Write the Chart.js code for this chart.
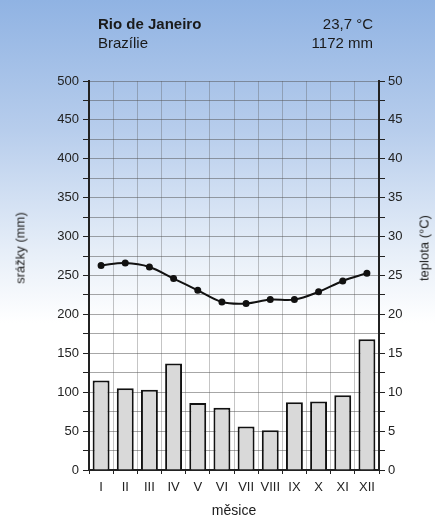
<!DOCTYPE html>
<html>
<head>
<meta charset="utf-8">
<script src="https://cdn.jsdelivr.net/npm/chart.js@4.4.1/dist/chart.umd.min.js"></script>
<style>
  body { margin: 0; }
  #wrap {
    position: relative;
    width: 435px;
    height: 521px;
    overflow: hidden;
    background: linear-gradient(180deg, #90b3e3 0%, #b7cdec 25%, #e6eef8 48%, #ffffff 62%, #ffffff 100%);
    font-family: "Liberation Sans", Arial, sans-serif;
    color: #1a1a1a;
  }
  #chart { position: absolute; left: 0; top: 0; }
  .txt { position: absolute; font-size: 15px; line-height: 15px; white-space: nowrap; }
  .axisTitle {
    position: absolute;
    font-size: 13px;
    line-height: 13px;
    font-weight: normal;
    color: #222;
    white-space: nowrap;
    transform: translate(-50%, -50%) rotate(-90deg);
  }
</style>
</head>
<body>
<div id="wrap">
  <canvas id="chart" width="435" height="521"></canvas>
  <div class="txt" style="left:98px; top:16px; font-weight:bold;">Rio de Janeiro</div>
  <div class="txt" style="left:98px; top:35px;">Brazílie</div>
  <div class="txt" style="right:62px; top:16px;">23,7 °C</div>
  <div class="txt" style="right:62px; top:35px;">1172 mm</div>
  <div class="axisTitle" style="left:20px; top:248px;">srážky (mm)</div>
  <div class="axisTitle" style="left:424px; top:248px;">teplota (°C)</div>
  <div class="txt" style="left:234px; top:510px; font-size:14px; line-height:14px; transform:translate(-50%,-50%);">měsice</div>
</div>
<script>
const months = ["I", "II", "III", "IV", "V", "VI", "VII", "VIII", "IX", "X", "XI", "XII"];
const precipitation = [115, 105, 103, 137, 86, 80, 56, 51, 87, 88, 96, 168];
const temperature = [26.3, 26.6, 26.1, 24.6, 23.1, 21.6, 21.4, 21.9, 21.9, 22.9, 24.3, 25.3];

const precipMax = 500;
const precipStep = 25;
const precipLabelStep = 50;
const tempMax = 50;
const tempStep = 2.5;
const tempLabelStep = 5;

Chart.defaults.font.family = "'Liberation Sans', Arial, sans-serif";
Chart.defaults.font.size = 13;
Chart.defaults.color = "#222";

const ctx = document.getElementById("chart").getContext("2d");

new Chart(ctx, {
  data: {
    labels: months,
    datasets: [
      {
        type: "line",
        data: temperature,
        yAxisID: "y1",
        borderColor: "#111",
        backgroundColor: "#111",
        borderWidth: 2,
        pointRadius: 2.5,
        pointBackgroundColor: "#111",
        tension: 0.35,
        order: 0
      },
      {
        type: "bar",
        data: precipitation,
        yAxisID: "y",
        backgroundColor: "#d9d9d9",
        borderColor: "#111",
        borderWidth: 2,
        barPercentage: 0.7,
        categoryPercentage: 1,
        order: 1
      }
    ]
  },
  options: {
    responsive: false,
    animation: false,
    devicePixelRatio: 1,
    layout: { padding: { top: 81, left: 0, right: 0, bottom: 0 } },
    plugins: {
      legend: { display: false },
      tooltip: { enabled: false }
    },
    scales: {
      x: {
        offset: true,
        afterFit: scale => { scale.height = 51; },
        grid: {
          offset: true,
          color: "rgba(90, 90, 90, 0.35)",
          tickColor: "#222",
          tickLength: 4
        },
        border: { color: "#222", width: 2 },
        ticks: { padding: 6, maxRotation: 0, autoSkip: false }
      },
      y: {
        position: "left",
        min: 0,
        max: precipMax,
        afterFit: scale => { scale.width = 89; },
        grid: {
          color: "rgba(80, 80, 80, 0.5)",
          tickColor: "#222",
          tickLength: 6
        },
        border: { color: "#222", width: 2 },
        ticks: {
          stepSize: precipStep,
          padding: 4,
          callback: value => (value % precipLabelStep === 0 ? value : "")
        }
      },
      y1: {
        position: "right",
        min: 0,
        max: tempMax,
        afterFit: scale => { scale.width = 56; },
        grid: {
          drawOnChartArea: false,
          tickColor: "#222",
          tickLength: 6
        },
        border: { color: "#222", width: 2 },
        ticks: {
          stepSize: tempStep,
          padding: 3,
          callback: value => (value % tempLabelStep === 0 ? value : "")
        }
      }
    }
  }
});
</script>
</body>
</html>
